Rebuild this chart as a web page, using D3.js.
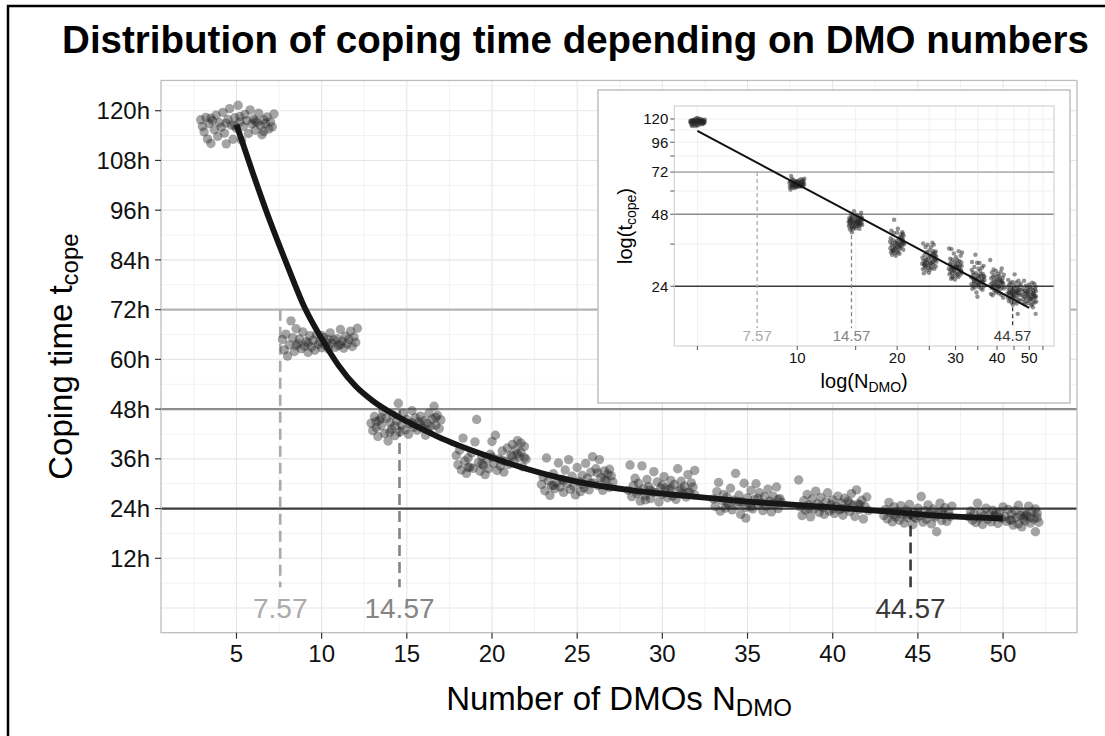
<!DOCTYPE html>
<html><head><meta charset="utf-8">
<script src="https://cdn.jsdelivr.net/npm/d3@7"></script>
<style>body{margin:0;background:#fff}svg{display:block;font-family:"Liberation Sans",Arial,Helvetica,sans-serif}</style>
</head><body><script>
// ---------------- data ----------------
const titleText = "Distribution of coping time depending on DMO numbers";
const xTicks = [5,10,15,20,25,30,35,40,45,50];
const yTicks = [12,24,36,48,60,72,84,96,108,120];
const yTickLabels = ["12h","24h","36h","48h","60h","72h","84h","96h","108h","120h"];
const clusterN = [5,10,15,20,25,30,35,40,45,50];
const pts5 = [[2.9,117.8],[3.0,116.2],[3.1,114.9],[3.2,118.4],[3.3,113.2],[3.4,116.9],[3.5,112.1],[3.6,117.6],[3.7,115.4],[3.8,118.9],
[3.9,113.8],[4.0,117.1],[4.1,116.0],[4.2,119.6],[4.3,114.6],[4.4,112.0],[4.5,117.9],[4.6,120.5],[4.7,116.5],[4.8,113.1],
[4.9,118.3],[5.0,115.7],[5.1,121.3],[5.2,117.3],[5.3,112.9],[5.4,116.2],[5.5,119.1],[5.6,117.6],[5.7,114.5],[5.8,120.2],
[5.9,116.8],[6.0,118.0],[6.1,115.3],[6.2,117.2],[6.3,119.4],[6.4,116.4],[6.5,114.2],[6.6,117.8],[6.7,116.9],[6.8,118.5],
[6.9,115.6],[7.0,117.3],[7.1,116.1],[7.2,119.2],[3.5,118.2],[4.4,117.0],[5.2,118.6],[6.1,117.5],[6.6,115.0],[4.9,116.4]];
const pts10 = [[7.7,64.8],[7.8,62.3],[7.9,66.1],[8.0,60.8],[8.1,63.5],[8.2,69.3],[8.3,65.2],[8.4,61.9],[8.5,67.4],[8.6,63.8],
[8.7,64.9],[8.8,62.6],[8.9,66.6],[9.0,63.2],[9.1,64.3],[9.2,61.7],[9.3,65.7],[9.4,63.0],[9.5,64.6],[9.6,62.2],
[9.7,66.0],[9.8,63.6],[9.9,64.2],[10.0,62.8],[10.1,65.3],[10.2,63.4],[10.3,64.0],[10.4,62.5],[10.5,66.4],[10.6,63.9],
[10.7,64.7],[10.8,62.9],[10.9,65.0],[11.0,63.3],[11.1,67.2],[11.2,64.4],[11.3,62.7],[11.4,65.6],[11.5,63.7],[11.6,64.8],
[11.7,66.8],[11.8,63.1],[11.9,65.4],[12.0,64.1],[12.1,67.5],[9.2,63.9],[10.4,64.8],[11.1,63.6],[8.5,63.3],[10.0,65.8]];
const pts15 = [[12.9,44.6],[13.0,42.8],[13.1,46.2],[13.2,43.5],[13.3,41.4],[13.4,45.3],[13.5,44.0],[13.6,47.4],[13.7,42.1],[13.8,45.8],
[13.9,40.3],[14.0,44.7],[14.1,43.2],[14.2,46.6],[14.3,41.6],[14.4,45.1],[14.5,49.4],[14.6,42.5],[14.7,44.2],[14.8,46.9],
[14.9,43.0],[15.0,45.5],[15.1,41.9],[15.2,44.4],[15.3,47.6],[15.4,43.6],[15.5,45.9],[15.6,42.9],[15.7,44.9],[15.8,46.3],
[15.9,43.4],[16.0,45.2],[16.1,41.7],[16.2,44.6],[16.3,47.0],[16.4,43.8],[16.5,45.6],[16.6,48.7],[16.7,44.1],[16.8,46.5],
[16.9,43.3],[17.0,45.4],[13.5,45.9],[14.3,43.9],[15.3,44.7],[16.2,43.1],[16.7,46.0],[14.0,42.4],[15.8,44.3],[13.2,45.0]];
const pts20 = [[17.9,36.8],[18.0,34.6],[18.1,38.1],[18.2,33.3],[18.3,41.0],[18.4,35.5],[18.5,32.5],[18.6,36.2],[18.7,34.0],[18.8,37.4],
[18.9,33.7],[19.0,40.1],[19.1,45.5],[19.2,35.1],[19.3,33.0],[19.4,36.6],[19.5,34.4],[19.6,32.2],[19.7,35.8],[19.8,33.6],
[19.9,37.1],[20.0,40.2],[20.1,34.9],[20.2,41.7],[20.3,33.2],[20.4,36.0],[20.5,34.2],[20.6,37.9],[20.7,32.8],[20.8,35.4],
[20.9,38.6],[21.0,34.7],[21.1,36.9],[21.2,39.5],[21.3,35.3],[21.4,38.3],[21.5,40.4],[21.6,36.4],[21.7,37.6],[21.8,34.1],
[21.9,39.0],[22.0,35.9],[21.5,37.2],[21.7,39.8],[20.6,35.6],[19.4,34.8],[18.6,33.9],[21.2,36.6],[20.0,36.4],[21.9,36.3]];
const pts25 = [[22.9,29.8],[23.0,31.6],[23.1,28.3],[23.2,36.2],[23.3,30.7],[23.4,27.2],[23.5,29.5],[23.6,32.4],[23.7,28.8],[23.8,30.3],
[23.9,35.0],[24.0,29.2],[24.1,31.1],[24.2,27.9],[24.3,33.3],[24.4,30.0],[24.5,35.8],[24.6,28.6],[24.7,31.8],[24.8,29.4],
[24.9,27.3],[25.0,33.9],[25.1,30.5],[25.2,28.1],[25.3,32.0],[25.4,29.0],[25.5,34.9],[25.6,31.3],[25.7,28.5],[25.8,32.8],
[25.9,36.5],[26.0,30.2],[26.1,33.6],[26.2,29.6],[26.3,35.8],[26.4,31.5],[26.5,28.4],[26.6,33.1],[26.7,30.8],[26.8,32.3],
[26.9,29.1],[27.0,31.9],[27.1,30.4],[26.2,32.6],[25.3,29.9],[24.2,30.8],[23.6,29.6],[26.6,31.0],[25.8,30.1],[26.9,33.5]];
const pts30 = [[28.0,28.4],[28.1,34.5],[28.2,26.9],[28.3,29.6],[28.4,31.3],[28.5,27.6],[28.6,30.1],[28.7,25.8],[28.8,34.3],[28.9,28.8],
[29.0,27.2],[29.1,31.0],[29.2,29.3],[29.3,26.4],[29.4,28.1],[29.5,32.9],[29.6,27.8],[29.7,30.4],[29.8,25.6],[29.9,28.9],
[30.0,27.4],[30.1,31.7],[30.2,29.0],[30.3,26.6],[30.4,28.6],[30.5,30.8],[30.6,27.0],[30.7,29.8],[30.8,26.2],[30.9,33.6],
[31.0,28.3],[31.1,30.6],[31.2,27.5],[31.3,29.4],[31.4,26.8],[31.5,32.2],[31.6,28.0],[31.7,30.2],[31.8,29.2],[31.9,33.2],
[31.9,27.3],[29.3,28.5],[30.5,28.9],[31.1,28.7],[28.6,28.2],[30.0,29.7],[29.0,26.1],[31.5,27.9]];
const pts35 = [[33.0,26.3],[33.1,24.5],[33.2,28.1],[33.3,30.3],[33.4,23.4],[33.5,25.9],[33.6,27.4],[33.7,24.1],[33.8,26.8],[33.9,25.0],
[34.0,28.9],[34.1,23.7],[34.2,26.0],[34.3,32.5],[34.4,24.7],[34.5,27.2],[34.6,22.6],[34.7,25.6],[34.8,30.1],[34.9,24.3],
[35.0,26.6],[35.1,25.2],[35.2,28.4],[35.3,23.9],[35.4,26.2],[35.5,30.0],[35.6,24.8],[35.7,27.8],[35.8,25.4],[35.9,23.5],
[36.0,26.9],[36.1,24.6],[36.2,28.7],[36.3,25.8],[36.4,23.2],[36.5,27.0],[36.6,25.1],[36.7,29.2],[36.8,24.0],[36.9,26.4],
[37.0,25.5],[34.9,21.7],[35.6,26.5],[36.3,25.0],[33.8,25.3],[34.5,25.7],[35.2,24.4],[36.8,26.2]];
const pts40 = [[38.0,30.9],[38.1,24.4],[38.2,22.3],[38.3,25.9],[38.4,23.6],[38.5,27.4],[38.6,24.9],[38.7,22.0],[38.8,26.3],[38.9,23.9],
[39.0,28.2],[39.1,25.2],[39.2,23.1],[39.3,26.7],[39.4,24.2],[39.5,22.6],[39.6,25.6],[39.7,27.8],[39.8,23.4],[39.9,25.0],
[40.0,26.1],[40.1,22.8],[40.2,24.6],[40.3,27.0],[40.4,23.7],[40.5,25.4],[40.6,22.4],[40.7,26.5],[40.8,24.1],[40.9,25.8],
[41.0,23.3],[41.1,27.6],[41.2,24.8],[41.3,22.1],[41.4,28.5],[41.5,25.1],[41.6,23.8],[41.7,26.0],[41.8,21.5],[41.9,24.5],
[42.0,26.8],[42.1,23.5],[39.3,24.5],[40.5,24.0],[41.0,25.3],[38.6,24.0],[40.0,23.9],[41.6,24.9]];
const pts45 = [[43.0,22.3],[43.1,23.8],[43.2,21.5],[43.3,25.5],[43.4,22.9],[43.5,20.8],[43.6,24.4],[43.7,22.0],[43.8,23.3],[43.9,21.2],
[44.0,24.7],[44.1,22.6],[44.2,20.5],[44.3,23.6],[44.4,21.8],[44.5,25.0],[44.6,22.4],[44.7,20.1],[44.8,23.1],[44.9,21.6],
[45.0,24.1],[45.1,22.2],[45.2,26.9],[45.3,20.7],[45.4,23.5],[45.5,21.4],[45.6,24.9],[45.7,22.8],[45.8,20.3],[45.9,23.9],
[46.0,21.9],[46.1,18.4],[46.2,23.0],[46.3,25.3],[46.4,21.1],[46.5,22.5],[46.6,24.2],[46.7,20.9],[46.8,23.2],[46.9,22.1],
[47.0,24.6],[44.3,22.7],[45.6,22.6],[44.8,21.9],[46.4,23.3],[43.6,22.5],[45.0,22.9],[46.0,22.4]];
const pts50 = [[48.0,22.0],[48.1,23.4],[48.2,21.2],[48.3,22.8],[48.4,20.6],[48.5,25.3],[48.6,21.7],[48.7,23.0],[48.8,20.2],[48.9,22.3],
[49.0,24.1],[49.1,21.4],[49.2,22.6],[49.3,20.8],[49.4,23.6],[49.5,21.9],[49.6,22.9],[49.7,20.4],[49.8,23.2],[49.9,21.6],
[50.0,24.4],[50.1,22.1],[50.2,20.9],[50.3,23.8],[50.4,21.3],[50.5,22.7],[50.6,20.0],[50.7,23.5],[50.8,21.8],[50.9,24.8],
[51.0,22.4],[51.1,19.6],[51.2,23.1],[51.3,21.0],[51.4,22.5],[51.5,24.6],[51.6,20.5],[51.7,23.3],[51.8,21.5],[51.9,18.4],
[52.0,22.9],[52.1,20.7],[51.3,22.2],[51.6,21.9],[50.5,21.2],[51.9,23.9],[49.5,22.4],[50.9,20.3],[51.2,21.6],[52.0,21.8]];
const clusters = [pts5,pts10,pts15,pts20,pts25,pts30,pts35,pts40,pts45,pts50];
// fitted curve
const curveX = [5,6,7,8,9,10,11,12,13,14,15,16,17,18,20,22,24,26,28,30,32,35,40,44,47,50];
const curveY = [116.6,104.5,93,82.5,72.5,65,58.5,53.5,50,47.3,45,43,41,39.3,36.3,33.6,31.4,29.7,28.5,27.6,26.8,25.7,24.3,23.0,22.1,21.6];
// reference lines / thresholds
const refHours = [72,48,24];
const refColors = ["#b4b4b4","#8c8c8c","#3c3c3c"];
const thresholdN = [7.57,14.57,44.57];
const thresholdLabels = ["7.57","14.57","44.57"];
const thresholdColors = ["#ababab","#858585","#3a3a3a"];
// inset
const insetXTicks = [5,10,15,20,25,30,35,40,45,50,55];
const insetXLabels = [10,20,30,40,50];
const insetYTicks = [24,36,48,60,72,84,96,108,120];
const insetYLabels = [24,48,72,96,120];
const insetFitN = [5,50];
const insetFitT = [107,19.5];

// ---------------- drawing ----------------
const W=1105,H=736;
const svg=d3.select("body").append("svg").attr("width",W).attr("height",H);
svg.append("rect").attr("width",W).attr("height",H).attr("fill","#fff");
svg.append("rect").attr("x",8).attr("y",6).attr("width",1300).attr("height",1000)
  .attr("fill","none").attr("stroke","#000").attr("stroke-width",2.5);

// title (condensed to the reference width)
const title = svg.append("text").attr("text-anchor","middle")
  .attr("font-weight","bold").attr("font-size",38).attr("fill","#000").text(titleText);
const tl = title.node().getComputedTextLength();
title.attr("transform",`translate(575.5,52.5) scale(${1027/tl},1)`);

const L=161,R=1077,T=80.45,B=632.7;
const x = d3.scaleLinear().domain([0.57,54.34]).range([L,R]);
const y = d3.scaleLinear().domain([-5.95,127.3]).range([B,T]);

const g = svg.append("g");
// minor grid
g.selectAll(".mx").data(d3.range(2.5,54.34,5)).join("line")
  .attr("x1",d=>x(d)).attr("x2",d=>x(d)).attr("y1",T).attr("y2",B).attr("stroke","#f2f2f2").attr("stroke-width",1);
g.selectAll(".my").data(d3.range(6,127.3,12)).join("line")
  .attr("y1",d=>y(d)).attr("y2",d=>y(d)).attr("x1",L).attr("x2",R).attr("stroke","#f2f2f2").attr("stroke-width",1);
// major grid
g.selectAll(".gx").data(xTicks).join("line")
  .attr("x1",d=>x(d)).attr("x2",d=>x(d)).attr("y1",T).attr("y2",B).attr("stroke","#e6e6e6").attr("stroke-width",1.1);
g.selectAll(".gy").data([0].concat(yTicks)).join("line")
  .attr("y1",d=>y(d)).attr("y2",d=>y(d)).attr("x1",L).attr("x2",R).attr("stroke","#e6e6e6").attr("stroke-width",1.1);

// reference hlines
g.selectAll(".ref").data(refHours).join("line")
  .attr("x1",L).attr("x2",R).attr("y1",d=>y(d)).attr("y2",d=>y(d))
  .attr("stroke",(d,i)=>refColors[i]).attr("stroke-width",2.2);

// dashed threshold segments
g.selectAll(".thr").data(thresholdN).join("line")
  .attr("x1",d=>x(d)).attr("x2",d=>x(d)).attr("y1",(d,i)=>y(refHours[i])).attr("y2",y(5))
  .attr("stroke",(d,i)=>thresholdColors[i]).attr("stroke-width",2.6).attr("stroke-dasharray","11,6");

// points
const allPts = clusters.flatMap((c,ci)=>c.map(p=>({x:p[0],y:p[1],n:clusterN[ci]})));
g.selectAll(".pt").data(allPts).join("circle")
  .attr("cx",d=>x(d.x)).attr("cy",d=>y(d.y)).attr("r",4.7)
  .attr("fill","#262626").attr("fill-opacity",0.42);

// fitted curve
const curvePts = curveX.map((v,i)=>[v,curveY[i]]);
g.append("path").datum(curvePts)
  .attr("d",d3.line().x(d=>x(d[0])).y(d=>y(d[1])).curve(d3.curveMonotoneX))
  .attr("fill","none").attr("stroke","#161616").attr("stroke-width",5.8).attr("stroke-linecap","butt");

// threshold labels
g.selectAll(".thl").data(thresholdN).join("text")
  .attr("x",d=>x(d)).attr("y",y(0)).attr("text-anchor","middle").attr("dominant-baseline","central")
  .attr("font-size",28).attr("fill",(d,i)=>thresholdColors[i]).text((d,i)=>thresholdLabels[i]);

// panel border
g.append("rect").attr("x",L).attr("y",T).attr("width",R-L).attr("height",B-T)
  .attr("fill","none").attr("stroke","#bdbdbd").attr("stroke-width",1.3);

// axes ticks & labels
g.selectAll(".yt").data(yTicks).join("line")
  .attr("x1",L-6).attr("x2",L).attr("y1",d=>y(d)).attr("y2",d=>y(d)).attr("stroke","#333").attr("stroke-width",1.2);
g.selectAll(".ytl").data(yTicks).join("text")
  .attr("x",L-11).attr("y",d=>y(d)).attr("dy","0.36em").attr("text-anchor","end")
  .attr("font-size",24).attr("fill","#111").text((d,i)=>yTickLabels[i]);
g.selectAll(".xt").data(xTicks).join("line")
  .attr("y1",B).attr("y2",B+6).attr("x1",d=>x(d)).attr("x2",d=>x(d)).attr("stroke","#333").attr("stroke-width",1.2);
g.selectAll(".xtl").data(xTicks).join("text")
  .attr("x",d=>x(d)).attr("y",662).attr("text-anchor","middle")
  .attr("font-size",24).attr("fill","#111").text(d=>d);

// axis titles
const xt = svg.append("text").attr("x",(L+R)/2).attr("y",710).attr("text-anchor","middle").attr("font-size",33).attr("fill","#000");
xt.append("tspan").text("Number of DMOs N");
xt.append("tspan").attr("font-size",24).attr("dy",6).text("DMO");
const yt = svg.append("text").attr("transform",`translate(72,${(T+B)/2}) rotate(-90)`).attr("text-anchor","middle").attr("font-size",33).attr("fill","#000");
yt.append("tspan").text("Coping time t");
yt.append("tspan").attr("font-size",24).attr("dy",6).text("cope");

// ---------------- inset ----------------
const ig = svg.append("g");
ig.append("rect").attr("x",598).attr("y",90).attr("width",472).attr("height",313)
  .attr("fill","#fff").attr("stroke","#c4c4c4").attr("stroke-width",1.6);
const iL=674.3,iR=1054,iT=106,iB=346;
const xl = d3.scaleLog().domain([4.26,59.4]).range([iL,iR]);
const yl = d3.scaleLog().domain([13.5,136]).range([iB,iT]);
ig.selectAll(".igx").data(insetXTicks).join("line")
  .attr("x1",d=>xl(d)).attr("x2",d=>xl(d)).attr("y1",iT).attr("y2",iB).attr("stroke","#ededed").attr("stroke-width",0.9);
ig.selectAll(".igy").data(insetYTicks).join("line")
  .attr("y1",d=>yl(d)).attr("y2",d=>yl(d)).attr("x1",iL).attr("x2",iR).attr("stroke","#ededed").attr("stroke-width",0.9);
ig.selectAll(".iref").data(refHours).join("line")
  .attr("x1",iL).attr("x2",iR).attr("y1",d=>yl(d)).attr("y2",d=>yl(d))
  .attr("stroke",(d,i)=>refColors[i]).attr("stroke-width",1.6);
ig.selectAll(".ithr").data(thresholdN).join("line")
  .attr("x1",d=>xl(d)).attr("x2",d=>xl(d)).attr("y1",(d,i)=>yl(refHours[i])).attr("y2",yl(16))
  .attr("stroke",(d,i)=>thresholdColors[i]).attr("stroke-width",1.3).attr("stroke-dasharray","4,3");
// points: same data, jitter compressed around each cluster on the log axis
ig.selectAll(".ipt").data(allPts).join("circle")
  .attr("cx",d=>xl(d.n)+(d.x-d.n)*3.4).attr("cy",d=>yl(d.y)).attr("r",2.2)
  .attr("fill","#262626").attr("fill-opacity",0.5);
ig.append("path").datum(insetFitN.map((v,i)=>[v,insetFitT[i]]))
  .attr("d",d3.line().x(d=>xl(d[0])).y(d=>yl(d[1])))
  .attr("stroke","#111").attr("stroke-width",2).attr("fill","none");
ig.selectAll(".ithl").data(thresholdN).join("text")
  .attr("x",d=>xl(d)).attr("y",yl(15)).attr("text-anchor","middle").attr("dominant-baseline","central")
  .attr("font-size",15).attr("fill",(d,i)=>thresholdColors[i]).text((d,i)=>thresholdLabels[i]);
ig.append("rect").attr("x",iL).attr("y",iT).attr("width",iR-iL).attr("height",iB-iT)
  .attr("fill","none").attr("stroke","#cccccc").attr("stroke-width",1);
ig.selectAll(".iyt").data(insetYTicks).join("line")
  .attr("x1",iL-4).attr("x2",iL).attr("y1",d=>yl(d)).attr("y2",d=>yl(d)).attr("stroke","#444").attr("stroke-width",0.9);
ig.selectAll(".iytl").data(insetYLabels).join("text")
  .attr("x",iL-6).attr("y",d=>yl(d)).attr("dy","0.36em").attr("text-anchor","end")
  .attr("font-size",15).attr("fill","#111").text(d=>d);
ig.selectAll(".ixt").data(insetXTicks).join("line")
  .attr("y1",iB).attr("y2",iB+4).attr("x1",d=>xl(d)).attr("x2",d=>xl(d)).attr("stroke","#444").attr("stroke-width",0.9);
ig.selectAll(".ixtl").data(insetXLabels).join("text")
  .attr("x",d=>xl(d)).attr("y",363).attr("text-anchor","middle")
  .attr("font-size",15).attr("fill","#111").text(d=>d);
const ixt = ig.append("text").attr("x",(iL+iR)/2).attr("y",388).attr("text-anchor","middle").attr("font-size",20).attr("fill","#000");
ixt.append("tspan").text("log(N");
ixt.append("tspan").attr("font-size",14).attr("dy",4).text("DMO");
ixt.append("tspan").attr("dy",-4).text(")");
const iyt = ig.append("text").attr("transform",`translate(632,${(iT+iB)/2}) rotate(-90)`).attr("text-anchor","middle").attr("font-size",20).attr("fill","#000");
iyt.append("tspan").text("log(t");
iyt.append("tspan").attr("font-size",14).attr("dy",4).text("cope");
iyt.append("tspan").attr("dy",-4).text(")");
</script></body></html>
